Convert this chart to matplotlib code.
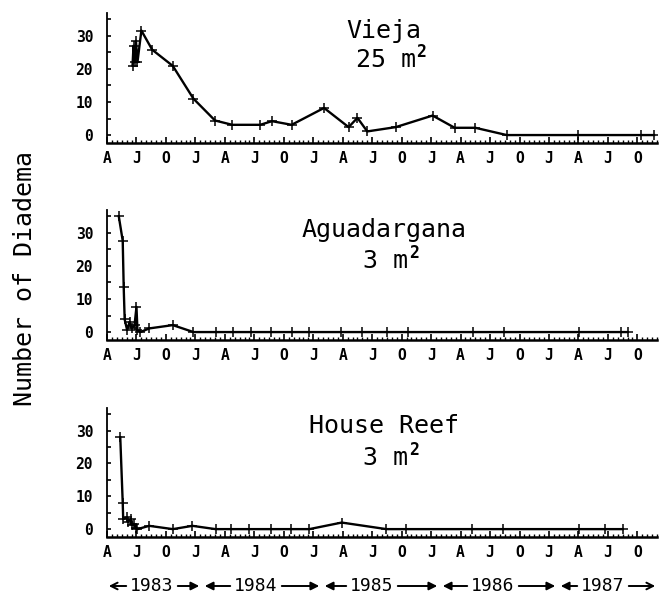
import matplotlib
matplotlib.use("Agg")
import matplotlib.pyplot as plt
from matplotlib.ticker import FixedLocator, MultipleLocator

# x = months since Jan 1983 (April 1983 = 3)
vieja_t = [5.6, 5.7, 5.8, 5.95, 6.1, 6.5, 7.6, 9.7, 11.8, 14.0, 15.75, 18.6, 19.8,
           21.8, 25.1, 27.6, 28.5, 29.5, 32.4, 36.15, 38.4, 40.5, 43.7, 51.0,
           57.4, 58.7]
vieja_n = [21, 27, 22, 28.5, 22, 31.6, 25.8, 20.9, 11.0, 4.4, 3.1, 3.1, 4.2,
           3.1, 8.2, 2.4, 5.2, 1.1, 2.4, 5.9, 2.2, 2.2, 0, 0,
           0, 0]

agua_t = [4.2, 4.6, 4.7, 4.8, 5.05, 5.3, 5.5, 5.8, 6.0, 6.1, 6.4, 7.3, 9.7, 11.8,
          14.05, 15.8, 17.7, 19.7, 21.8, 23.6, 26.8, 29.0, 31.5, 33.6, 40.3,
          43.4, 51.1, 55.3, 56.0]
agua_n = [35, 27.6, 13.6, 3.8, 0.6, 3.1, 1.1, 2.0, 7.6, 0.6, 0, 1.1, 2.1, 0,
          0, 0, 0, 0, 0, 0, 0, 0, 0, 0, 0,
          0, 0, 0, 0]

house_t = [4.35, 4.6, 4.65, 5.0, 5.1, 5.4, 5.5, 5.7, 6.0, 6.1, 7.3, 9.7, 11.7,
           14.05, 15.65, 17.5, 19.7, 21.7, 23.6, 26.9, 31.45, 33.4, 40.2,
           43.35, 51.1, 53.7, 55.5]
house_n = [28, 8.1, 3.0, 3.6, 2.3, 3.0, 1.3, 1.6, 0.3, 0, 1.0, 0, 1.0,
           0, 0, 0, 0, 0, 0, 2.0, 0, 0, 0,
           0, 0, 0, 0]

sites = ["Vieja", "Aguadargana", "House Reef"]
areas = ["25 m", "3 m", "3 m"]
month_labels = ["A", "J", "O", "J"] * 4 + ["A", "J", "O"]
years = ["1983", "1984", "1985", "1986", "1987"]

series = [(vieja_t, vieja_n), (agua_t, agua_n), (house_t, house_n)]

W, H = 659, 598
fig = plt.figure(figsize=(W / 100, H / 100), dpi=100)
mono = "DejaVu Sans Mono"

# axes boxes in pixels: (top, bottom)
boxes = [(13, 143), (210, 340), (408, 537)]
left_px, right_px = 107, 657
# title baseline / area baseline in axes fraction
title_y = [0.81, 0.79, 0.806]
area_y = [0.585, 0.554, 0.558]

for i, (tt, nn) in enumerate(series):
    top, bot = boxes[i]
    ax = fig.add_axes([left_px / W, 1 - bot / H, (right_px - left_px) / W, (bot - top) / H])
    ax.plot(tt, nn, color="black", lw=1.7, marker="+", ms=7, mew=1.1)
    ax.set_xlim(3, 59)
    ax.set_ylim(-2.4, 36.9)
    for s in ["top", "right"]:
        ax.spines[s].set_visible(False)
    ax.spines["left"].set_linewidth(1.3)
    ax.spines["bottom"].set_linewidth(1.8)

    ax.xaxis.set_major_locator(FixedLocator([3 + 3 * k for k in range(len(month_labels))]))
    ax.set_xticklabels(month_labels, family=mono, fontweight="bold", fontsize=10.5)
    ax.xaxis.set_minor_locator(MultipleLocator(0.5))
    ax.set_yticks([0, 10, 20, 30])
    ax.set_yticklabels(["0", "10", "20", "30"], family=mono, fontweight="bold", fontsize=10.5)
    ax.yaxis.set_minor_locator(MultipleLocator(5))
    ax.tick_params(axis="x", which="major", direction="in", length=4, width=1.2, pad=6)
    ax.tick_params(axis="x", which="minor", direction="in", length=2, width=1)
    ax.tick_params(axis="y", which="both", direction="in", length=3, width=1.2, pad=10)

    ax.text(0.503, title_y[i], sites[i], transform=ax.transAxes, ha="center",
            va="baseline", family=mono, fontsize=18)
    t = ax.text(0.507, area_y[i], areas[i], transform=ax.transAxes, ha="center",
                va="baseline", family=mono, fontsize=18)
    ax.annotate("2", xy=(1, 0), xycoords=t, xytext=(0.5, 11), textcoords="offset points",
                ha="left", va="baseline", family=mono, fontsize=12, fontweight="bold")

fig.text(25 / W, 1 - 278 / H, "Number of Diadema", rotation=90, ha="center",
         va="center", family=mono, fontsize=18)

# year bar along the bottom
yc = 1 - 586 / H
bounds = [106, 202, 322, 440, 558, 658]
centers = [152, 256, 372, 493, 603]
half = 23
for k, yr in enumerate(years):
    cx = centers[k]
    fig.text(cx / W, yc, yr, ha="center", va="center", family=mono, fontsize=13)
    a, b = bounds[k], bounds[k + 1]
    lstyle = "->" if k == 0 else "-|>"
    rstyle = "->" if k == len(years) - 1 else "-|>"
    fig.add_artist(matplotlib.patches.FancyArrowPatch(
        ((cx - half) / W, yc), (a / W, yc), transform=fig.transFigure,
        arrowstyle=lstyle, mutation_scale=12, lw=1.4, color="black"))
    fig.add_artist(matplotlib.patches.FancyArrowPatch(
        ((cx + half) / W, yc), (b / W, yc), transform=fig.transFigure,
        arrowstyle=rstyle, mutation_scale=12, lw=1.4, color="black"))

fig.savefig("out.png", dpi=100)
